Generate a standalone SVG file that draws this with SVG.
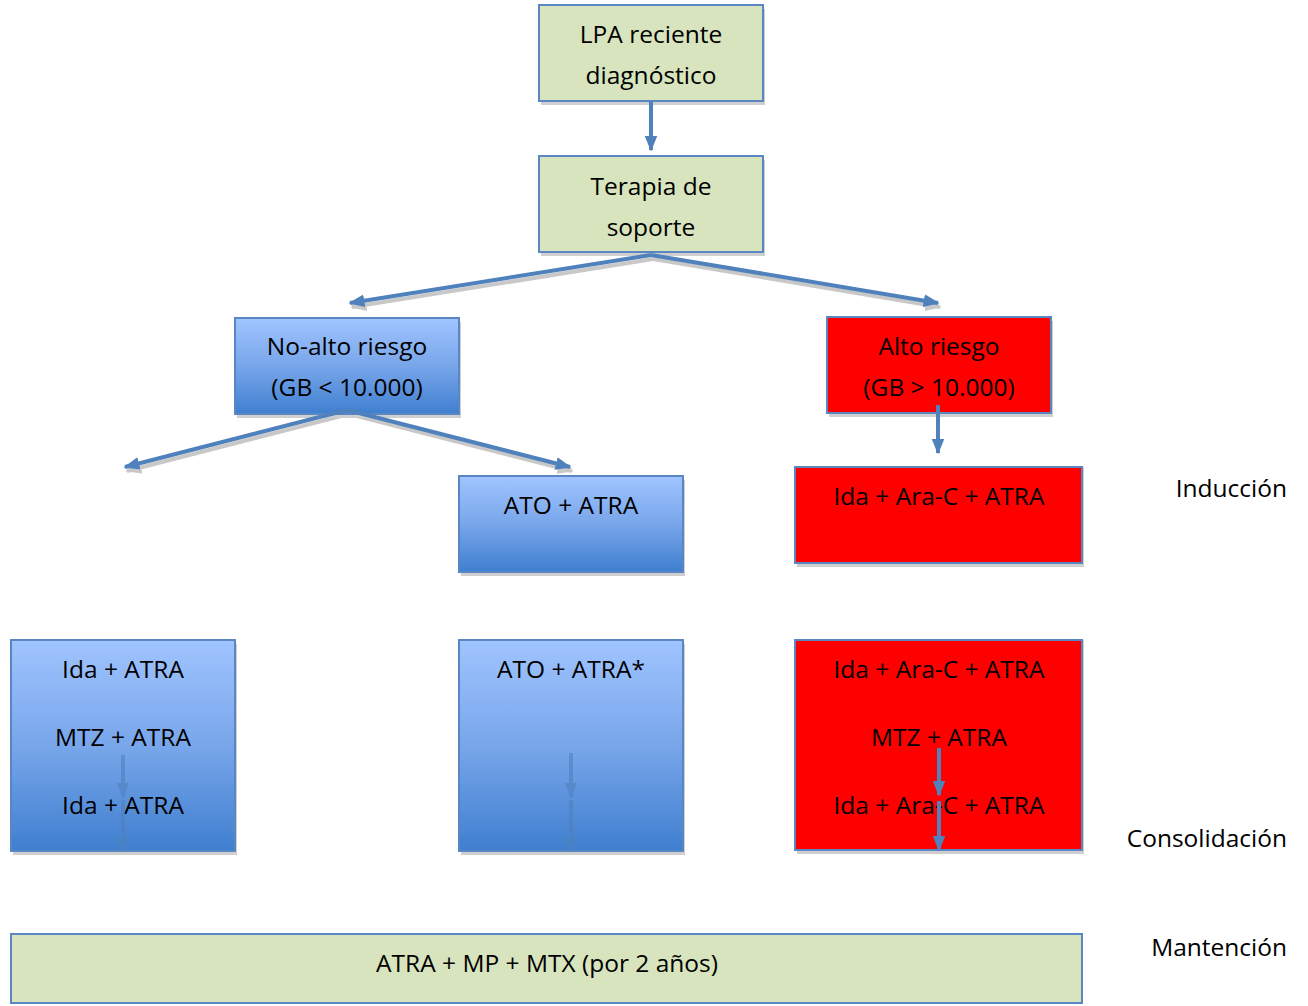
<svg xmlns="http://www.w3.org/2000/svg" width="1308" height="1006" viewBox="0 0 1308 1006">
<defs>
<linearGradient id="gb" x1="0" y1="0" x2="0" y2="1">
<stop offset="0" stop-color="#a0c4ff"/>
<stop offset="0.5" stop-color="#78a6ea"/>
<stop offset="1" stop-color="#3f7fcf"/>
</linearGradient>
<marker id="ah" viewBox="0 0 10 10" refX="9" refY="5" markerWidth="4" markerHeight="4" orient="auto" markerUnits="strokeWidth">
<path d="M0,1 L10,5 L0,9 Z" fill="#4f81bd"/>
</marker>
<marker id="ahs" viewBox="0 0 10 10" refX="9" refY="5" markerWidth="4" markerHeight="4" orient="auto" markerUnits="strokeWidth">
<path d="M0,1 L10,5 L0,9 Z" fill="#c8c8c8"/>
</marker>
</defs>
<style>
.sh{fill:#cfcfcf}
.g{fill:#d7e4bd;stroke:#5b86c4;stroke-width:2}
.b{fill:url(#gb);stroke:#5b86c4;stroke-width:2}
.r{fill:#ff0000;stroke:#5b86c4;stroke-width:2}
text{font-family:"Open Sans","Liberation Sans",sans-serif;font-size:24.5px;fill:#000;text-anchor:middle}
.lab{text-anchor:end}
.c{fill:none;stroke:#4f81bd;stroke-width:4;marker-end:url(#ah)}
.cs{fill:none;stroke:#c8c8c8;stroke-width:4;marker-end:url(#ahs)}
.ci{fill:none;stroke:#4f81bd;stroke-width:4;marker-end:url(#ah)}
</style>
<g id="connectors-shadow">
<path class="cs" d="M653,259 L352,307"/>
<path class="cs" d="M653,259 L940,307"/>
<path class="cs" d="M349,414 L127,471"/>
<path class="cs" d="M349,414 L572,471"/>
</g>
<g id="n1"><rect class="sh" x="541" y="9" width="224" height="96"/><rect class="g" x="539" y="5" width="224" height="96"/><text x="651" y="43">LPA reciente</text><text x="651" y="84">diagnóstico</text></g>
<g id="n2"><rect class="sh" x="541" y="160" width="224" height="96"/><rect class="g" x="539" y="156" width="224" height="96"/><text x="651" y="195">Terapia de</text><text x="651" y="236">soporte</text></g>
<g id="n3"><rect class="sh" x="237" y="322" width="224" height="96"/><rect class="b" x="235" y="318" width="224" height="96"/><text x="347" y="355">No-alto riesgo</text><text x="347" y="396">(GB &lt; 10.000)</text></g>
<g id="n4"><rect class="sh" x="829" y="321" width="224" height="96"/><rect class="r" x="827" y="317" width="224" height="96"/><text x="939" y="355">Alto riesgo</text><text x="939" y="396">(GB &gt; 10.000)</text></g>
<g id="n5"><rect class="sh" x="461" y="480" width="224" height="96"/><rect class="b" x="459" y="476" width="224" height="96"/><text x="571" y="514">ATO + ATRA</text></g>
<g id="n6"><rect class="sh" x="797" y="467" width="287" height="100"/><rect class="r" x="795" y="467" width="287" height="96"/><text x="939" y="505">Ida + Ara-C + ATRA</text></g>
<g id="n7"><rect class="sh" x="13" y="644" width="224" height="211"/><rect class="b" x="11" y="640" width="224" height="211"/><text x="123" y="678">Ida + ATRA</text><text x="123" y="746">MTZ + ATRA</text><text x="123" y="814">Ida + ATRA</text></g>
<g id="n8"><rect class="sh" x="461" y="644" width="224" height="211"/><rect class="b" x="459" y="640" width="224" height="211"/><text x="571" y="678">ATO + ATRA*</text></g>
<g id="n9"><rect class="sh" x="797" y="640" width="287" height="214"/><rect class="r" x="795" y="640" width="287" height="210"/><text x="939" y="678">Ida + Ara-C + ATRA</text><text x="939" y="746">MTZ + ATRA</text><text x="939" y="814">Ida + Ara-C + ATRA</text></g>
<g id="n10"><rect class="g" x="11" y="934" width="1071" height="69"/><text x="547" y="972">ATRA + MP + MTX (por 2 años)</text></g>
<g id="labels">
<text class="lab" x="1287" y="497">Inducción</text>
<text class="lab" x="1287" y="847">Consolidación</text>
<text class="lab" x="1287" y="956">Mantención</text>
</g>
<g id="connectors">
<path class="c" d="M651,101 L651,150"/>
<path class="c" d="M651,255 L350,303"/>
<path class="c" d="M651,255 L938,303"/>
<path class="c" d="M347,410 L125,467"/>
<path class="c" d="M347,410 L570,467"/>
<path class="c" d="M938,405 L938,453"/>
<g opacity="0.6">
<path class="ci" d="M123,755 L123,797"/>
<path class="ci" d="M123,800 L123,851"/>
<path class="ci" d="M571,753 L571,797"/>
<path class="ci" d="M571,800 L571,851"/>
</g>
<path class="ci" d="M939,748 L939,795"/>
<path class="ci" d="M939,801 L939,850"/>
</g>
</svg>
